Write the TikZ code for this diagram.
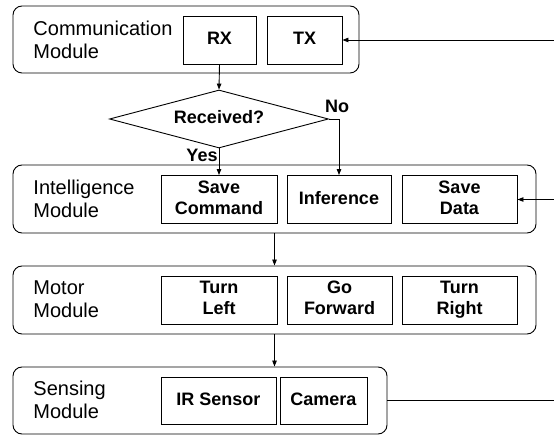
\documentclass[tikz,border=0pt]{standalone}
\usepackage{fontspec}
\setmainfont{Liberation Sans}
\usetikzlibrary{shapes.geometric,arrows.meta}
\newcommand\bstrut{\rule[-4pt]{0pt}{17pt}}
\newcommand\rstrut{\rule[-4.3pt]{0pt}{18.7pt}}
\begin{document}
\begin{tikzpicture}[x=1pt,y=-1pt,
  line width=0.9pt,
  outerbox/.style={draw, rounded corners=9pt, minimum height=#1, inner sep=0pt},
  innerbox/.style={draw, align=center, font=\fontsize{18}{21}\selectfont\bfseries, inner sep=0pt, minimum height=48},
  modlabel/.style={anchor=west, align=left, inner sep=0pt, font=\fontsize{20}{23}\selectfont},
  lbl/.style={font=\fontsize{18}{21}\selectfont\bfseries, inner sep=0pt},
  arr/.style={-{Triangle[length=6pt,width=4.5pt]}}
]
\useasboundingbox (0,0) rectangle (554,435);

% outer module boxes
\node[outerbox=67, minimum width=346] (comm) at (186,39.5) {};
\node[outerbox=68, minimum width=523] (intel) at (274.5,199) {};
\node[outerbox=68, minimum width=523] (motor) at (274.5,300) {};
\node[outerbox=67, minimum width=374] (sense) at (200,400.5) {};

% module labels
\node[modlabel] (commlbl) at (33,42) {Communication\rstrut\\Module\rstrut};
\node[modlabel] (intellbl) at (33,200.5) {Intelligence\rstrut\\Module\rstrut};
\node[modlabel] (motorlbl) at (33,301) {Motor\rstrut\\Module\rstrut};
\node[modlabel] (senselbl) at (33,402) {Sensing\rstrut\\Module\rstrut};

% inner boxes
\node[innerbox, minimum width=73] (rx) at (219.5,40) {RX\bstrut};
\node[innerbox, minimum width=75] (tx) at (304.5,40) {TX\bstrut};

\node[innerbox, minimum width=116] (savecmd) at (219,199.5) {Save\bstrut\\Command\bstrut};
\node[innerbox, minimum width=104] (infer) at (339,199.5) {Inference\bstrut};
\node[innerbox, minimum width=115] (savedata) at (459.5,199.5) {Save\bstrut\\Data\bstrut};

\node[innerbox, minimum width=116] (tleft) at (219,300) {Turn\bstrut\\Left\bstrut};
\node[innerbox, minimum width=105] (fwd) at (339.5,300) {Go\bstrut\\Forward\bstrut};
\node[innerbox, minimum width=115] (tright) at (459.5,300) {Turn\bstrut\\Right\bstrut};

\node[innerbox, minimum width=115, minimum height=47] (ir) at (218.5,400.5) {IR Sensor\bstrut};
\node[innerbox, minimum width=87, minimum height=47] (cam) at (323.5,400.5) {Camera\bstrut};

% decision
\node[draw, diamond, aspect=3.8, inner sep=0pt, minimum width=219, minimum height=58,
      font=\fontsize{18}{21}\selectfont\bfseries] (dec) at (219,119) {Received?\bstrut};
\node[lbl] (no) at (337,108) {No\bstrut};
\node[lbl] (yes) at (202,157) {Yes\bstrut};

% free ends
\coordinate (ctx) at (554,40);
\coordinate (csd) at (554,199.5);
\coordinate (cse) at (554,400.5);

% connectors
\draw[arr] (rx.south) -- (dec.north);
\draw[arr] (dec.south) -- (savecmd.north);
\draw[arr] (dec.east) -| (infer.north);
\draw[arr] (intel.south) -- (motor.north);
\draw[arr] (motor.south) -- (motor.south |- sense.north);
\draw[arr] (ctx) -- (tx.east);
\draw[arr] (csd) -- (savedata.east);
\draw (sense.east) -- (cse);
\end{tikzpicture}
\end{document}
